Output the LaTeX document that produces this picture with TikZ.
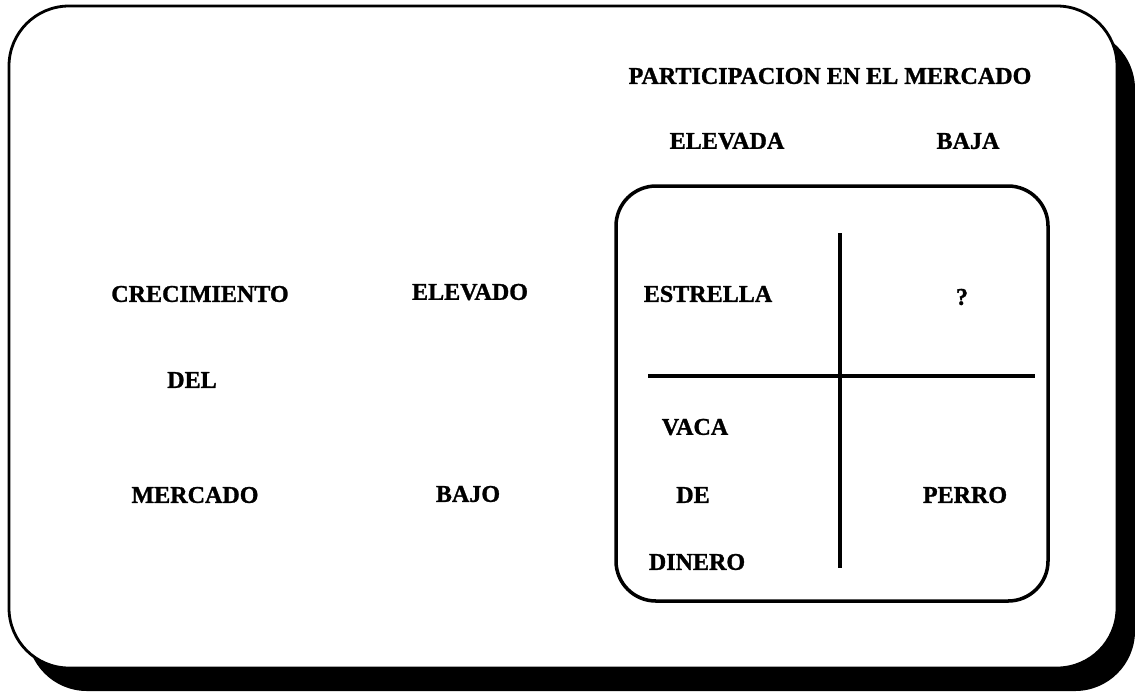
\documentclass[tikz,border=0pt]{standalone}
\usepackage{fontspec}
\setmainfont[BoldFeatures={FakeBold=1.2}]{Liberation Serif}
\usetikzlibrary{calc}

\tikzset{
	lbl/.style={font=\fontsize{13.7}{16}\selectfont\bfseries, inner sep=0pt},
	gridline/.style={line width=1.9pt},
}

\begin{document}
\begin{tikzpicture}[x=0.02cm, y=-0.02cm]
			%%%%% START %%%%%
			\useasboundingbox (0, 0) rectangle (1135, 691);
			
			\fill[rounded corners=1.2cm] (27, 29) rectangle (1135, 691);
			\draw[fill=white, line width=1.6pt, rounded corners=1.2cm] (9, 6) rectangle (1117, 668);
			
			\draw[line width=2pt, rounded corners=0.8cm] (616, 186) rectangle (1048, 601);
			\draw[gridline] (840, 233) -- (840, 568);
			\draw[gridline] (648, 376) -- (1035, 376);
			
			\node[lbl] (part) at (830, 76) {PARTICIPACION EN EL MERCADO};
			\node[lbl] (elevada) at (727, 141) {ELEVADA};
			\node[lbl] (baja) at (968, 141) {BAJA};
			
			\node[lbl] (crec) at (200, 294) {CRECIMIENTO};
			\node[lbl] (del) at (192, 380) {DEL};
			\node[lbl] (merc) at (195, 495) {MERCADO};
			
			\node[lbl] (elevado) at (470, 292) {ELEVADO};
			\node[lbl] (bajo) at (468, 494) {BAJO};
			
			\node[lbl] (estrella) at (708, 294) {ESTRELLA};
			\node[lbl] (interr) at (962, 297) {?};
			\node[lbl] (vaca) at (695, 427) {VACA};
			\node[lbl] (de) at (693, 495) {DE};
			\node[lbl] (dinero) at (697, 562) {DINERO};
			\node[lbl] (perro) at (965, 495) {PERRO};
			
			%%%%% END %%%%%
\end{tikzpicture}
\end{document}
